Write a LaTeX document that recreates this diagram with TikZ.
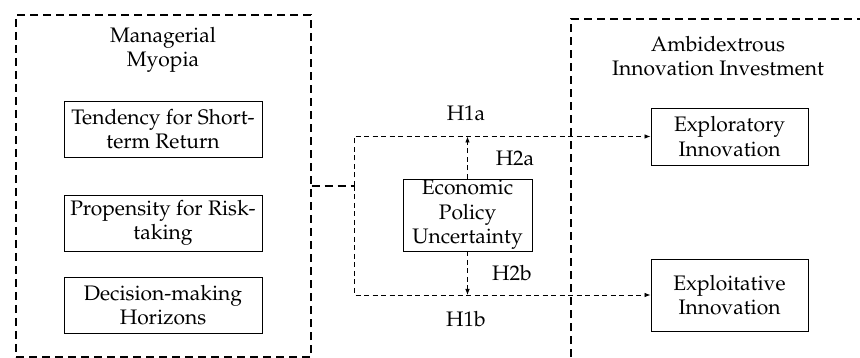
\documentclass[tikz,border=0pt]{standalone}
\usepackage[T1]{fontenc}
\usepackage{mathpazo}
\usetikzlibrary{arrows.meta}

\tikzset{
  outerbox/.style={draw, dashed, line width=1.2pt, dash pattern=on 8pt off 5pt},
  thindash/.style={draw, line width=0.8pt, dash pattern=on 5pt off 3.5pt},
  itembox/.style={draw, line width=0.9pt, align=center, inner sep=0pt},
  heading/.style={align=center, inner sep=0pt},
  hyp/.style={inner sep=0pt},
  tip/.style={-{Latex[length=6pt,width=4.5pt]}}
}

\begin{document}
\begin{tikzpicture}[x=1pt,y=-1pt,font=\fontsize{21}{24.5}\selectfont]
\useasboundingbox (0,0) rectangle (860,358);
\clip (0,0) rectangle (860,358);

% left group
\node[outerbox, minimum width=295pt, minimum height=342pt] (myopia) at (163.5,186) {};
\node[heading] (myopiatitle) at (163,50) {Managerial\\Myopia};
\node[itembox, minimum width=198pt, minimum height=56pt] (shortterm) at (163,129) {Tendency for Short-\\term Return};
\node[itembox, minimum width=198pt, minimum height=56pt] (risk) at (163,223) {Propensity for Risk-\\taking};
\node[itembox, minimum width=198pt, minimum height=56pt] (horizon) at (163,305) {Decision-making\\Horizons};

% right group
\draw[outerbox] (571,370) -- (571,19) -- (870,19);
\node[heading] (ambititle) at (718,56) {Ambidextrous\\Innovation Investment};
\node[itembox, minimum width=157pt, minimum height=57pt] (explore) at (729.5,136.5) {Exploratory\\Innovation};
\node[itembox, minimum width=157pt, minimum height=72pt] (exploit) at (729.5,295) {Exploitative\\Innovation};

% moderator
\node[itembox, minimum width=129pt, minimum height=72pt] (epu) at (467.5,215) {Economic\\Policy\\Uncertainty};

% connectors
\coordinate (split) at (354,186);
\draw[outerbox] (myopia.east) -- (split);
\draw[thindash, tip] (split) |- (explore.west);
\draw[thindash, tip] (split) |- (exploit.west);
\draw[thindash, tip] (epu.north) -- (epu.north |- explore.west);
\draw[thindash, tip] (epu.south) -- (epu.south |- exploit.west);

% hypotheses
\node[hyp] (h1a) at (466,113) {H1a};
\node[hyp] (h2a) at (515,158) {H2a};
\node[hyp] (h2b) at (512,273) {H2b};
\node[hyp] (h1b) at (466,319) {H1b};
\end{tikzpicture}
\end{document}
